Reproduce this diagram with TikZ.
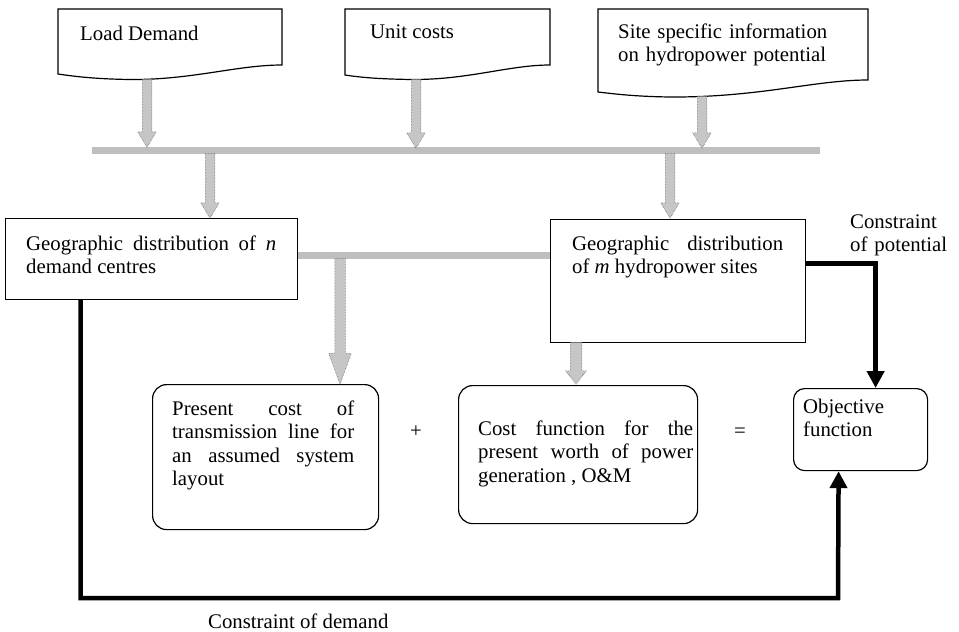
\documentclass[tikz,border=0pt]{standalone}
\usepackage{fontspec}
\setmainfont{Liberation Serif}
\usetikzlibrary{shapes.arrows,arrows.meta}
\newcommand\fs{\fontsize{20.8}{23.5}\selectfont}
\hyphenpenalty=10000
\exhyphenpenalty=10000
\tolerance=9999
\tikzset{
 txt/.style={inner sep=0pt, anchor=north west, font=\fs, align=justify, text width=#1},
 lbl/.style={inner sep=0pt, anchor=base west, font=\fs},
 frame/.style={draw, line width=1.2pt, anchor=north west, inner sep=0pt},
 rframe/.style={frame, rounded corners=14pt},
 doc/.style={line width=1.2pt, line join=miter},
 bar/.style={line width=7pt, gray!50},
 blk/.style={single arrow, draw=gray!60!black, densely dotted, line width=0.5pt,
  fill=gray!45, inner sep=4.5pt, single arrow head extend=4.5pt,
  single arrow tip angle=62, shape border rotate=270,
  anchor=tail, minimum height=#1},
 link/.style={line width=4.5pt, line join=miter, -{Triangle[width=17pt,length=17pt]}}
}
\begin{document}
\begin{tikzpicture}[x=1pt,y=-1pt]
\useasboundingbox (0,0) rectangle (959,632);
% input documents
\draw[doc] (282,65) -- (282,9) -- (58,9) -- (58,74) .. controls (75,76.5) and (95,79) .. (130,79.5) .. controls (192,80) and (237,65) .. cycle;
\draw[doc] (550,65) -- (550,9) -- (345,9) -- (345,75) .. controls (361,77.5) and (379,79) .. (411,79.5) .. controls (468,80) and (509,65) .. cycle;
\draw[doc] (868,80) -- (868,9) -- (598,9) -- (598,92) .. controls (615,94) and (635,96.5) .. (670,97) .. controls (760,97.5) and (814,80) .. cycle;
\node[lbl] (load) at (80,40) {Load Demand};
\node[lbl] (unit) at (370,38) {Unit costs};
\node[txt=240pt, align=left] (site) at (618,21.5) {\strut Site specific information\\on hydropower potential};
% collecting bars
\coordinate (bar1) at (0,150);
\coordinate (bar2) at (0,255);
\draw[bar] (92,150) -- (820,150);
% boxes
\node[frame, minimum width=292pt, minimum height=81pt] (geon) at (5,218) {};
\node[frame, minimum width=255pt, minimum height=123pt] (geom) at (550,219) {};
\node[rframe, minimum width=226pt, minimum height=145pt] (present) at (152,384) {};
\node[rframe, minimum width=239pt, minimum height=138pt] (cost) at (458,385) {};
\node[rframe, rounded corners=11pt, minimum width=134pt, minimum height=82pt] (obj) at (793,388) {};
\node[txt=250pt] (geon-t) at (26,233.5) {\strut Geographic distribution of \textit{n} demand centres};
\node[txt=211pt] (geom-t) at (572,233.5) {\strut Geographic distribution of \textit{m} hydropower sites};
\node[txt=182pt] (present-t) at (172,398.5) {\strut Present cost of transmission line for an assumed system layout};
\node[txt=215pt] (cost-t) at (478,418.5) {\strut Cost function for the present worth of power generation , O\&M};
\node[txt=120pt, align=left] (obj-t) at (803,396.5) {\strut Objective\\function};
\node[font=\fs, inner sep=0pt] (plus) at (416,432) {+};
\node[font=\fs, inner sep=0pt] (equal) at (740,433) {=};
\draw[bar] (geon.east |- bar2) -- (geom.west |- bar2);
% block arrows
\node[blk=68pt] (a-load) at (147,79) {};
\node[blk=69pt] (a-unit) at (416,79) {};
\node[blk=52pt] (a-site) at (702,96) {};
\node[blk=65pt] (a-geon) at (210,153) {};
\node[blk=65pt] (a-geom) at (670,153) {};
\node[blk=126pt, inner sep=5pt, single arrow head extend=6pt, single arrow tip angle=40] (a-present) at (340,258) {};
\node[blk=42pt, inner sep=5.5pt, single arrow tip angle=75] (a-cost) at (576,342) {};
% constraints
\coordinate (dbase) at (838,598);
\draw[link] ([yshift=17.5pt]geom.east) -| ([xshift=15pt]obj.north);
\draw[link] ([xshift=-71pt]geon.south) |- (dbase) -- ([xshift=-22pt]obj.south);
\node[txt=110pt, align=left] (pot) at (850,211.5) {\strut Constraint\\of potential};
\node[lbl] (dem) at (208,628) {Constraint of demand};
\end{tikzpicture}
\end{document}
